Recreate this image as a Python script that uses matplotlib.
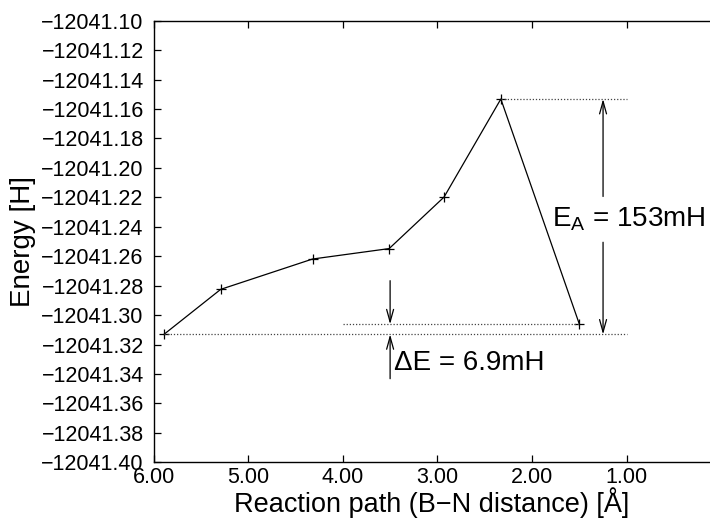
import numpy as np
import matplotlib
matplotlib.use("Agg")
import matplotlib.pyplot as plt
from matplotlib.ticker import FixedLocator, FuncFormatter

plt.rcParams['font.family'] = ['Liberation Sans', 'DejaVu Sans']

# Reaction path: B-N distance [Å] and total energy [H]
bn_distance = [5.89, 5.29, 4.32, 3.51, 2.93, 2.33, 1.50]
energy = [-12041.3131, -12041.2825, -12041.2619, -12041.2548,
          -12041.2198, -12041.1532, -12041.3062]

x_ticks = [6.0, 5.0, 4.0, 3.0, 2.0, 1.0]
y_ticks = list(np.round(np.arange(-12041.40, -12041.099, 0.02), 2))

e_start = energy[0]
e_end = energy[-1]
e_peak = max(energy)
x_peak = bn_distance[int(np.argmax(energy))]

fig = plt.figure(figsize=(7.10, 5.18), dpi=100)
ax = fig.add_axes([0.2162, 0.1075, 0.7838, 0.8525])

ax.plot(bn_distance, energy, color='black', lw=0.9, marker='+',
        markersize=7, markeredgewidth=0.9)

ax.set_xlim(6.0, 0.12)
ax.set_ylim(-12041.40, -12041.10)

# reference levels
dot = dict(color='#444444', lw=0.9, linestyle=(0, (1, 1.5)))
ax.plot([bn_distance[0], 1.0], [e_start, e_start], **dot)
ax.plot([x_peak, 1.0], [e_peak, e_peak], **dot)
ax.plot([4.0, bn_distance[-1]], [e_end, e_end], **dot)

arrow = dict(arrowstyle='->,head_length=0.9,head_width=0.25',
             color='black', lw=0.9, shrinkA=0, shrinkB=0)

# activation energy
x_ea = 1.25
ax.annotate('', xy=(x_ea, e_peak), xytext=(x_ea, -12041.2194),
            arrowprops=arrow)
ax.annotate('', xy=(x_ea, e_start), xytext=(x_ea, -12041.2505),
            arrowprops=arrow)
ax.text(1.79, -12041.2345, r'E$_\mathregular{A}$ = 153mH', fontsize=20,
        ha='left', va='center')

# reaction energy
x_de = 3.50
ax.annotate('', xy=(x_de, e_end), xytext=(x_de, -12041.2766),
            arrowprops=arrow)
ax.annotate('', xy=(x_de, e_start), xytext=(x_de, -12041.3432),
            arrowprops=arrow)
ax.text(3.46, -12041.3327, '\u0394E = 6.9mH', fontsize=20,
        ha='left', va='center')

ax.xaxis.set_major_locator(FixedLocator(x_ticks))
ax.xaxis.set_major_formatter(FuncFormatter(lambda v, p: f'{v:.2f}'))
ax.yaxis.set_major_locator(FixedLocator(y_ticks))
ax.yaxis.set_major_formatter(
    FuncFormatter(lambda v, p: f'{v:.2f}'.replace('-', '\u2212')))

ax.tick_params(axis='both', direction='in', length=5, width=0.9,
               labelsize=15.5, top=True, right=False)
ax.tick_params(axis='x', pad=3.5)
ax.tick_params(axis='y', pad=7)
for s in ['left', 'bottom', 'top']:
    ax.spines[s].set_linewidth(1.0)
ax.spines['right'].set_visible(False)

ax.set_xlabel('Reaction path (B\u2212N distance) [\u00c5]', fontsize=19.5,
              labelpad=-0.5)
ax.set_ylabel('Energy [H]', fontsize=20, labelpad=4)

fig.savefig('out.png', dpi=100)
